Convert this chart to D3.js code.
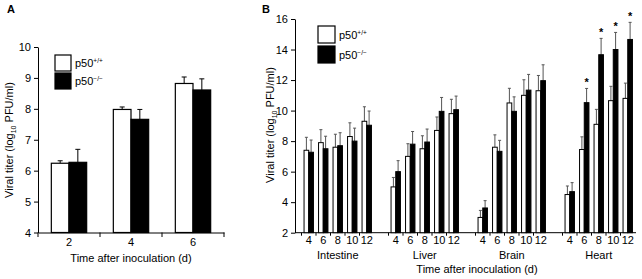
<!DOCTYPE html>
<html>
<head>
<meta charset="utf-8">
<script src="https://cdn.jsdelivr.net/npm/d3@7"></script>
<style>
  body { margin: 0; background: #fff; }
  svg { font-family: "Liberation Sans", Arial, sans-serif; }
</style>
</head>
<body>
<div id="chart"></div>
<script>
// Panel A data
const daysA = ['2', '4', '6']
const wtA = [6.24, 7.98, 8.82]
const wtErrA = [0.08, 0.08, 0.21]
const koA = [6.27, 7.66, 8.61]
const koErrA = [0.42, 0.32, 0.36]
const ticksA = [4, 5, 6, 7, 8, 9, 10]

// Panel B data
const organs = ['Intestine', 'Liver', 'Brain', 'Heart']
const daysB = ['4', '6', '8', '10', '12']
const wtB = [
  [7.4, 7.9, 7.6, 8.3, 9.3],
  [5.0, 7.0, 7.5, 8.7, 9.8],
  [3.0, 7.6, 10.5, 11.0, 11.3],
  [4.5, 7.45, 9.1, 10.65, 10.8]
]
const wtErrB = [
  [0.85, 0.85, 0.85, 0.9, 0.95],
  [0.62, 0.83, 0.85, 0.88, 0.94],
  [0.46, 0.81, 0.96, 1.02, 1.0],
  [0.56, 0.83, 0.98, 0.94, 1.0]
]
const koB = [
  [7.27, 7.5, 7.7, 8.0, 9.04],
  [6.0, 7.8, 7.94, 9.95, 10.06],
  [3.62, 7.33, 9.95, 11.34, 11.96],
  [4.69, 10.52, 13.66, 14.0, 14.66]
]
const koErrB = [
  [0.8, 0.82, 0.85, 0.85, 0.93],
  [0.72, 0.83, 0.85, 0.91, 0.89],
  [0.48, 0.72, 0.95, 1.03, 1.04],
  [0.59, 0.93, 1.07, 1.12, 1.12]
]
const signifB = [
  [0, 0, 0, 0, 0],
  [0, 0, 0, 0, 0],
  [0, 0, 0, 0, 0],
  [0, 1, 1, 1, 1]
]
const ticksB = [2, 4, 6, 8, 10, 12, 14, 16]
const seriesLabels = ['+/+', '\u2212/\u2212']

const width = 642, height = 279
const svg = d3.select('#chart').append('svg')
  .attr('width', width)
  .attr('height', height)

function yLabel(g, x, y) {
  const t = g.append('text')
    .attr('transform', `translate(${x},${y}) rotate(-90)`)
    .attr('text-anchor', 'middle')
    .attr('font-size', '11px')
  t.append('tspan').text('Viral titer (log')
  t.append('tspan').attr('font-size', '7px').attr('dy', 3).text('10')
  t.append('tspan').attr('dy', -3).text(' PFU/ml)')
}

function legend(g, x, y, box, gap) {
  ;['#fff', '#000'].forEach((c, i) => {
    g.append('rect')
      .attr('x', x).attr('y', y + i * (box + gap))
      .attr('width', box).attr('height', box)
      .attr('fill', c).attr('stroke', '#000').attr('stroke-width', 1.2)
    const t = g.append('text')
      .attr('x', x + box + 4)
      .attr('y', y + i * (box + gap) + box / 2 + 4)
      .attr('font-size', '11px')
    t.append('tspan').text('p50')
    t.append('tspan').attr('font-size', '6.5px').attr('dy', -4).text(seriesLabels[i])
  })
}

// ---------- Panel A ----------
const gA = svg.append('g')
const xA = d3.scaleBand().domain(daysA).range([38, 224])
const yA = d3.scaleLinear().domain([4, 10]).range([232.5, 47])
const bwA = xA.bandwidth() * 0.285

gA.append('g')
  .attr('transform', 'translate(38,0)')
  .call(d3.axisLeft(yA).tickValues(ticksA).tickFormat(d3.format('d'))
    .tickSize(4).tickSizeOuter(0).tickPadding(3))
  .call(g => g.selectAll('text').attr('font-size', '11px').attr('fill', '#000').attr('font-family', null))

gA.append('g')
  .attr('transform', 'translate(0,232.5)')
  .call(d3.axisBottom(xA).tickSize(0).tickPadding(6))
  .call(g => g.selectAll('text').attr('font-size', '11px').attr('fill', '#000').attr('font-family', null))

// category boundary ticks
gA.selectAll('.bt')
  .data(daysA.map(d => xA(d)).concat([xA.range()[1]]))
  .enter().append('line')
  .attr('x1', d => d).attr('x2', d => d)
  .attr('y1', 232.5).attr('y2', 237)
  .attr('stroke', '#000')

const barsA = daysA.map((d, i) => [
  { x: xA(d) + xA.bandwidth() / 2 - bwA, v: wtA[i], e: wtErrA[i], fill: '#fff' },
  { x: xA(d) + xA.bandwidth() / 2, v: koA[i], e: koErrA[i], fill: '#000' }
]).flat()

gA.selectAll('.errA').data(barsA).enter().append('path')
  .attr('d', b => `M${b.x + bwA / 2},${yA(b.v)}V${yA(b.v + b.e)}M${b.x + bwA / 2 - 2.5},${yA(b.v + b.e)}h5`)
  .attr('stroke', '#000').attr('stroke-width', 1).attr('fill', 'none')

gA.selectAll('.barA').data(barsA).enter().append('rect')
  .attr('x', b => b.x).attr('width', bwA)
  .attr('y', b => yA(b.v)).attr('height', b => yA(4) - yA(b.v))
  .attr('fill', b => b.fill).attr('stroke', '#000').attr('stroke-width', 1.2)

yLabel(gA, 13, 140)
gA.append('text').attr('x', 131).attr('y', 262).attr('text-anchor', 'middle')
  .attr('font-size', '11px').text('Time after inoculation (d)')
gA.append('text').attr('x', 7).attr('y', 13).attr('font-size', '11px')
  .attr('font-weight', 'bold').text('A')
legend(gA, 55, 55, 16, 2)

// ---------- Panel B ----------
const gB = svg.append('g')
const slots = []
organs.forEach((o, i) => {
  if (i > 0) slots.push('gap' + i)
  daysB.forEach(d => slots.push(o + '-' + d))
})
const xB = d3.scaleBand().domain(slots).range([301.5, 635])
const yB = d3.scaleLinear().domain([2, 16]).range([232.7, 19])
const bwB = 4.7

gB.append('g')
  .attr('transform', 'translate(295,0)')
  .call(d3.axisLeft(yB).tickValues(ticksB).tickFormat(d3.format('d'))
    .tickSize(4).tickSizeOuter(0).tickPadding(3))
  .call(g => g.selectAll('text').attr('font-size', '11px').attr('fill', '#000').attr('font-family', null))

gB.append('line')
  .attr('x1', 295).attr('x2', xB.range()[1] + 1)
  .attr('y1', yB(2)).attr('y2', yB(2))
  .attr('stroke', '#000')

const tickKeys = slots.filter(s => !s.startsWith('gap'))
gB.selectAll('.tk').data(tickKeys).enter().append('line')
  .attr('x1', s => xB(s)).attr('x2', s => xB(s))
  .attr('y1', yB(2)).attr('y2', yB(2) + 3)
  .attr('stroke', '#000')

gB.selectAll('.tl').data(tickKeys).enter().append('text')
  .attr('x', s => xB(s) + xB.bandwidth() / 2)
  .attr('y', 244)
  .attr('text-anchor', 'middle')
  .attr('font-size', '11px')
  .text(s => s.split('-')[1])

gB.selectAll('.org').data(organs).enter().append('text')
  .attr('x', o => xB(o + '-8') + xB.bandwidth() / 2)
  .attr('y', 259)
  .attr('text-anchor', 'middle')
  .attr('font-size', '11px')
  .text(o => o)

const barsB = []
organs.forEach((o, i) => daysB.forEach((d, j) => {
  const c = xB(o + '-' + d) + xB.bandwidth() / 2
  barsB.push({ x: c - bwB, v: wtB[i][j], e: wtErrB[i][j], fill: '#fff', s: 0 })
  barsB.push({ x: c, v: koB[i][j], e: koErrB[i][j], fill: '#000', s: signifB[i][j] })
}))

gB.selectAll('.errB').data(barsB).enter().append('path')
  .attr('d', b => `M${b.x + bwB / 2},${yB(b.v)}V${yB(b.v + b.e)}M${b.x + bwB / 2 - 1.5},${yB(b.v + b.e)}h3`)
  .attr('stroke', '#555').attr('stroke-width', 1).attr('fill', 'none')

gB.selectAll('.barB').data(barsB).enter().append('rect')
  .attr('x', b => b.x).attr('width', bwB)
  .attr('y', b => yB(b.v)).attr('height', b => yB(2) - yB(b.v))
  .attr('fill', b => b.fill).attr('stroke', '#000').attr('stroke-width', 1)

gB.selectAll('.star').data(barsB.filter(b => b.s)).enter().append('text')
  .attr('x', b => b.x + bwB / 2)
  .attr('y', b => yB(b.v + b.e) - 2)
  .attr('text-anchor', 'middle')
  .attr('font-size', '11px')
  .attr('font-weight', 'bold')
  .text('*')

yLabel(gB, 274, 125)
gB.append('text').attr('x', 477).attr('y', 273).attr('text-anchor', 'middle')
  .attr('font-size', '11px').text('Time after inoculation (d)')
gB.append('text').attr('x', 262).attr('y', 13).attr('font-size', '11px')
  .attr('font-weight', 'bold').text('B')
legend(gB, 318, 26, 17, 3)
</script>
</body>
</html>
